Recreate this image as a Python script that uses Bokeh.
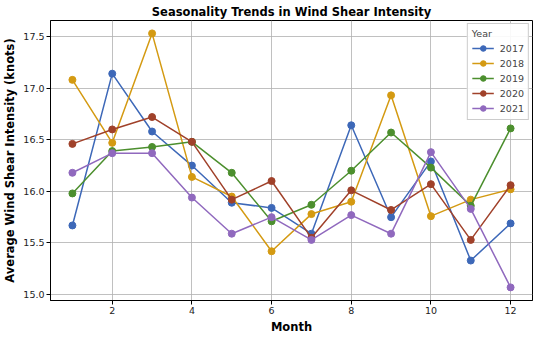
from bokeh.plotting import figure
from bokeh.models import FixedTicker, Range1d, Legend, LegendItem, NumeralTickFormatter
from bokeh.embed import file_html
from bokeh.resources import INLINE

months = [1, 2, 3, 4, 5, 6, 7, 8, 9, 10, 11, 12]
years = ["2017", "2018", "2019", "2020", "2021"]
s2017 = [15.67, 17.14, 16.58, 16.25, 15.89, 15.84, 15.59, 16.64, 15.75, 16.29, 15.33, 15.69]
s2018 = [17.08, 16.47, 17.53, 16.14, 15.95, 15.42, 15.78, 15.90, 16.93, 15.76, 15.92, 16.02]
s2019 = [15.98, 16.39, 16.43, 16.48, 16.18, 15.71, 15.87, 16.20, 16.57, 16.23, 15.86, 16.61]
s2020 = [16.46, 16.60, 16.72, 16.48, 15.92, 16.10, 15.55, 16.01, 15.82, 16.07, 15.53, 16.06]
s2021 = [16.18, 16.37, 16.37, 15.94, 15.59, 15.75, 15.53, 15.77, 15.59, 16.38, 15.83, 15.07]
series = [s2017, s2018, s2019, s2020, s2021]
colors = ["#3D68B8", "#D49A12", "#4C8F2E", "#A0412A", "#9069BE"]
x_ticks = [2, 4, 6, 8, 10, 12]
y_ticks = [15.0, 15.5, 16.0, 16.5, 17.0, 17.5]

FONT = "DejaVu Sans"

p = figure(frame_width=482, frame_height=280, output_backend="svg", toolbar_location=None,
           x_range=Range1d(0.45, 12.55), y_range=Range1d(14.943, 17.655),
           title="Seasonality Trends in Wind Shear Intensity",
           min_border_left=0, min_border_right=1, min_border_top=0, min_border_bottom=0)

p.title.text_font = FONT
p.title.text_font_size = "11.5px"
p.title.text_font_style = "bold"
p.title.align = "center"
p.title.text_color = "black"
p.title.standoff = 4

p.outline_line_color = "black"
p.outline_line_width = 1
p.background_fill_color = "white"
p.border_fill_color = "white"

for ax in (p.xaxis[0], p.yaxis[0]):
    ax.axis_label_text_font = FONT
    ax.axis_label_text_font_size = "11.5px"
    ax.axis_label_text_font_style = "bold"
    ax.axis_label_text_color = "black"
    ax.major_label_text_font = FONT
    ax.major_label_text_font_size = "9.5px"
    ax.major_label_text_color = "#222222"
    ax.minor_tick_line_color = None
    ax.major_tick_out = 4
    ax.major_tick_in = 0
    ax.axis_line_color = "black"

p.xaxis.axis_label = "Month"
p.yaxis.axis_label = "Average Wind Shear Intensity (knots)"
p.xaxis.ticker = FixedTicker(ticks=x_ticks)
p.yaxis.ticker = FixedTicker(ticks=y_ticks)
p.yaxis.formatter = NumeralTickFormatter(format="0.0")
p.axis.axis_label_standoff = 3
p.axis.major_label_standoff = 2

p.grid.grid_line_color = "#b0b0b0"
p.grid.grid_line_alpha = 0.8
p.grid.grid_line_width = 1

items = []
for yr, vals, c in zip(years, series, colors):
    r1 = p.line(months, vals, line_color=c, line_width=1.5)
    r2 = p.scatter(months, vals, size=7, fill_color=c, line_color=c)
    items.append(LegendItem(label=yr, renderers=[r1, r2]))

legend = Legend(items=items, location="top_right", title="Year",
                title_text_font=FONT, title_text_font_size="9.5px", title_text_font_style="normal",
                title_standoff=2,
                label_text_font=FONT, label_text_font_size="9.5px",
                border_line_color="#cccccc", border_line_alpha=1, background_fill_alpha=0.9,
                glyph_width=22, glyph_height=14, label_height=14, spacing=1,
                padding=4, margin=3, label_standoff=6)
p.add_layout(legend)

open("out.html", "w").write(file_html(p, INLINE))
